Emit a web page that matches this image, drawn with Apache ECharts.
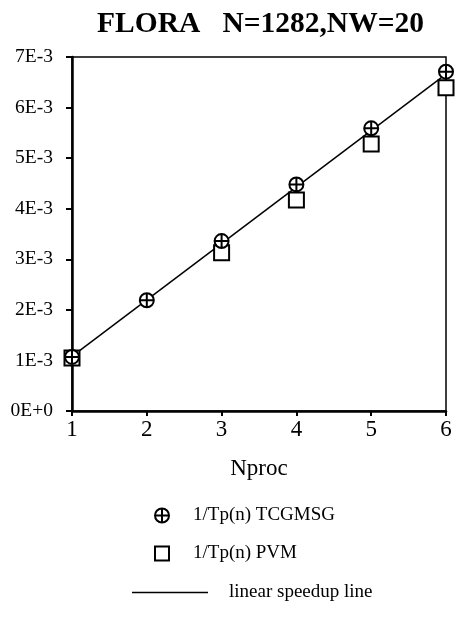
<!DOCTYPE html>
<html><head><meta charset="utf-8">
<script src="https://cdn.jsdelivr.net/npm/echarts@6/dist/echarts.min.js"></script>
<style>html,body{margin:0;padding:0;background:#fff}#c{width:456px;height:619px}</style>
</head><body><div id="c"></div>
<script>
const nproc = [1, 2, 3, 4, 5, 6];
const tcgmsg = [1.07e-3, 2.19e-3, 3.36e-3, 4.48e-3, 5.59e-3, 6.71e-3];
const pvmN = [1, 3, 4, 5, 6];
const pvm = [1.05e-3, 3.13e-3, 4.17e-3, 5.28e-3, 6.39e-3];
const lineN = [1, 6];
const lineV = [1.08e-3, 6.66e-3];
const yTickLabels = ['0E+0', '1E-3', '2E-3', '3E-3', '4E-3', '5E-3', '6E-3', '7E-3'];
const xTickLabels = ['1', '2', '3', '4', '5', '6'];

const FONT = '"Liberation Serif", "Times New Roman", serif';
const plusCircle = 'path://M0,10 A10,10 0 1,1 20,10 A10,10 0 1,1 0,10 Z M10,0 L10,20 M0,10 L20,10';

const chart = echarts.init(document.getElementById('c'), null, {renderer: 'canvas'});
chart.setOption({
  animation: false,
  backgroundColor: '#fff',
  title: {
    text: 'FLORA   N=1282,NW=20',
    left: 92, top: 4,
    textStyle: {fontFamily: FONT, fontWeight: 'bold', fontSize: 29.5, color: '#000'}
  },
  grid: {left: 72, right: 10, top: 57, bottom: 208, show: true, borderColor: '#000', borderWidth: 1.5, backgroundColor: 'transparent'},
  xAxis: {
    type: 'value', min: 1, max: 6, interval: 1,
    name: 'Nproc', nameLocation: 'middle', nameGap: 46,
    nameTextStyle: {fontFamily: FONT, fontSize: 23, color: '#000'},
    axisLine: {onZero: false, lineStyle: {color: '#000', width: 2.5}},
    axisTick: {show: true, inside: false, length: 5, lineStyle: {color: '#000', width: 2}},
    axisLabel: {fontFamily: FONT, fontSize: 23, color: '#000', margin: 7,
      formatter: (v, i) => xTickLabels[i]},
    splitLine: {show: false}
  },
  yAxis: {
    type: 'value', min: 0, max: 0.007, interval: 0.001,
    axisLine: {show: true, onZero: false, lineStyle: {color: '#000', width: 2.5}},
    axisTick: {show: true, inside: false, length: 6, lineStyle: {color: '#000', width: 2}},
    axisLabel: {fontFamily: FONT, fontSize: 19.5, color: '#000', margin: 19,
      formatter: (v, i) => yTickLabels[i]},
    splitLine: {show: false}
  },
  legend: [
    {
      orient: 'vertical', left: 149, top: 501, itemWidth: 14, itemHeight: 14, itemGap: 19,
      data: ['1/Tp(n) TCGMSG', '1/Tp(n) PVM'],
      textStyle: {fontFamily: FONT, fontSize: 19, color: '#000', padding: [0, 0, 0, 19]}
    },
    {
      orient: 'vertical', left: 127, top: 578, itemWidth: 76, itemHeight: 1.5,
      data: [{name: 'linear speedup line', icon: 'rect', itemStyle: {color: '#000'}}],
      textStyle: {fontFamily: FONT, fontSize: 19, color: '#000', padding: [0, 0, 0, 16]}
    }
  ],
  series: [
    {
      name: 'linear speedup line', type: 'line', z: 2,
      data: lineN.map((n, i) => [n, lineV[i]]),
      symbol: 'none', showSymbol: false, lineStyle: {color: '#000', width: 1.5}, itemStyle: {color: '#000'}
    },
    {
      name: '1/Tp(n) PVM', type: 'scatter', z: 3, clip: false,
      data: pvmN.map((n, i) => [n, pvm[i]]),
      symbol: 'rect', symbolSize: 15,
      itemStyle: {color: '#fff', borderColor: '#000', borderWidth: 2, opacity: 1}
    },
    {
      name: '1/Tp(n) TCGMSG', type: 'scatter', z: 4, clip: false,
      data: nproc.map((n, i) => [n, tcgmsg[i]]),
      symbol: plusCircle, symbolSize: 14, symbolKeepAspect: true,
      itemStyle: {color: '#fff', borderColor: '#000', borderWidth: 2, opacity: 1}
    }
  ]
});
</script></body></html>
